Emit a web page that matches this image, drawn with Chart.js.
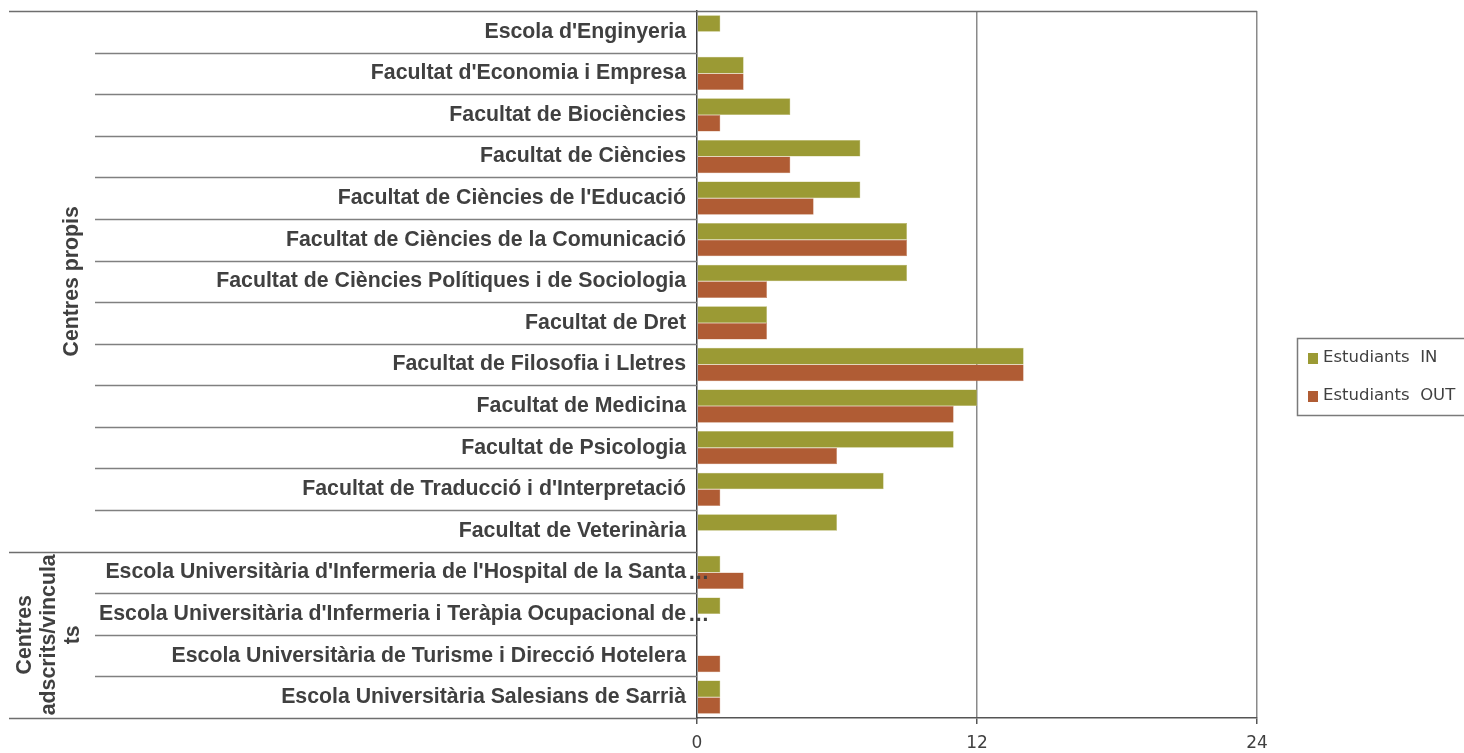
<!DOCTYPE html>
<html>
<head>
<meta charset="utf-8">
<script src="https://cdn.jsdelivr.net/npm/chart.js@4/dist/chart.umd.min.js"></script>
<style>
html,body{margin:0;padding:0;background:#fff;}
#wrap{width:1464px;height:753px;position:relative;}
</style>
</head>
<body>
<div id="wrap"><canvas id="c" width="1464" height="753"></canvas></div>
<script>
const categories = [
  "Escola d'Enginyeria",
  "Facultat d'Economia i Empresa",
  "Facultat de Biociències",
  "Facultat de Ciències",
  "Facultat de Ciències de l'Educació",
  "Facultat de Ciències de la Comunicació",
  "Facultat de Ciències Polítiques i de Sociologia",
  "Facultat de Dret",
  "Facultat de Filosofia i Lletres",
  "Facultat de Medicina",
  "Facultat de Psicologia",
  "Facultat de Traducció i d'Interpretació",
  "Facultat de Veterinària",
  "Escola Universitària d'Infermeria de l'Hospital de la Santa…",
  "Escola Universitària d'Infermeria i Teràpia Ocupacional de…",
  "Escola Universitària de Turisme i Direcció Hotelera",
  "Escola Universitària Salesians de Sarrià"
];
const groups = ["Centres propis", "Centres adscrits/vinculats"];
const groupSizes = [13, 4];
const groupLabelLines = [["Centres propis"], ["Centres", "adscrits/vincula", "ts"]];
const seriesNames = ["Estudiants  IN", "Estudiants  OUT"];
const estudiantsIn  = [1, 2, 4, 7, 7, 9, 9, 3, 14, 12, 11, 8, 6, 1, 1, 0, 1];
const estudiantsOut = [0, 2, 1, 4, 5, 9, 3, 3, 14, 11, 6, 1, 0, 2, 0, 1, 1];
const xTicks = [0, 12, 24];

const colIn = "#9b9a34";
const colOut = "#b05c34";
const textCol = "#404040";
const labelFont = "'Liberation Sans', Arial, sans-serif";
const valueFont = "'DejaVu Sans', Verdana, sans-serif";
const labelSize = 21.3;

const overlay = {
  id: 'overlay',
  afterDraw(chart) {
    const ctx = chart.ctx;
    const area = chart.chartArea;
    const ya = chart.scales.y;
    const n = categories.length;
    const step = (area.bottom - area.top) / n;
    ctx.save();
    ctx.lineWidth = 1.5;
    ctx.strokeStyle = "#6e6e6e";
    ctx.beginPath();
    ctx.moveTo(9, Math.round(area.top) + 0.5);
    ctx.lineTo(area.right, Math.round(area.top) + 0.5);
    ctx.stroke();
    let idx = 0;
    const groupBounds = [];
    groupSizes.forEach((g) => {
      const start = idx;
      for (let k = 1; k < g; k++) {
        const y = Math.round(area.top + (idx + k) * step) + 0.5;
        ctx.strokeStyle = "#808080";
        ctx.beginPath(); ctx.moveTo(95, y); ctx.lineTo(area.left, y); ctx.stroke();
      }
      idx += g;
      const yEnd = Math.round(area.top + idx * step) + 0.5;
      ctx.strokeStyle = "#6e6e6e";
      ctx.beginPath(); ctx.moveTo(9, yEnd); ctx.lineTo(area.left, yEnd); ctx.stroke();
      groupBounds.push([area.top + start * step, area.top + idx * step]);
    });
    ctx.fillStyle = textCol;
    ctx.font = "bold " + labelSize + "px " + labelFont;
    // overflowing ellipses of truncated labels
    ctx.textAlign = "left";
    ctx.textBaseline = "middle";
    categories.forEach((c, i) => {
      if (c.endsWith("…")) {
        ctx.fillText("…", area.left - 9, ya.getPixelForValue(i) + 1);
      }
    });
    ctx.textAlign = "center";
    groupLabelLines.forEach((lines, gi) => {
      const cy = (groupBounds[gi][0] + groupBounds[gi][1]) / 2;
      const lh = 24;
      const cx0 = gi === 0 ? 72 : 49;
      lines.forEach((ln, li) => {
        const cx = cx0 + (li - (lines.length - 1) / 2) * lh;
        ctx.save();
        ctx.translate(cx, cy);
        ctx.rotate(-Math.PI / 2);
        ctx.fillText(ln, 0, 0);
        ctx.restore();
      });
    });
    const lx = 1297, ly = 338, lw = 175, lh2 = 77;
    ctx.strokeStyle = "#7a7a7a";
    ctx.lineWidth = 1.5;
    ctx.strokeRect(lx + 0.5, ly + 0.5, lw, lh2);
    ctx.font = "16.5px " + valueFont;
    ctx.textAlign = "left";
    ctx.textBaseline = "middle";
    chart.data.datasets.forEach((ds, i) => {
      const cy = 358 + i * 38;
      ctx.fillStyle = ds.backgroundColor;
      ctx.fillRect(1308, cy - 5, 10, 11);
      ctx.fillStyle = textCol;
      ctx.fillText(ds.label, 1323, cy);
    });
    ctx.restore();
  }
};

new Chart(document.getElementById('c'), {
  type: 'bar',
  data: {
    labels: categories,
    datasets: [
      { label: seriesNames[0], data: estudiantsIn, backgroundColor: colIn, borderColor: "#b8b86a", borderWidth: 0.5 },
      { label: seriesNames[1], data: estudiantsOut, backgroundColor: colOut, borderColor: "#c98a6a", borderWidth: 0.5 }
    ]
  },
  options: {
    indexAxis: 'y',
    responsive: false,
    animation: false,
    devicePixelRatio: 1,
    layout: { padding: { left: 0, right: 207, top: 11, bottom: 0 } },
    datasets: { bar: { categoryPercentage: 0.8, barPercentage: 1.0 } },
    plugins: { legend: { display: false }, tooltip: { enabled: false } },
    scales: {
      x: {
        min: 0, max: 24,
        afterBuildTicks(axis) { axis.ticks = xTicks.map(v => ({ value: v })); },
        afterFit(axis) { axis.height = 35; axis.paddingLeft = 0; axis.paddingRight = 0; },
        grid: {
          color: (c) => c.tick && c.tick.value === 0 ? 'rgba(0,0,0,0)' : '#8a8a8a',
          lineWidth: 1.5,
          drawTicks: true,
          tickLength: 6,
          tickColor: '#555555'
        },
        border: { display: true, color: '#555555', width: 1.5 },
        ticks: {
          color: textCol,
          font: { family: valueFont, size: 17 },
          padding: 9,
          maxRotation: 0
        }
      },
      y: {
        afterFit(axis) { axis.width = 697; axis.paddingTop = 0; axis.paddingBottom = 0; },
        grid: { display: false, drawTicks: false },
        border: { display: true, color: '#404040', width: 1.5 },
        ticks: {
          color: textCol,
          font: { family: labelFont, size: labelSize, weight: 'bold' },
          padding: 11,
          autoSkip: false,
          callback(v, i) { const s = categories[i]; return s.endsWith("…") ? s.slice(0, -1) : s; }
        }
      }
    }
  },
  plugins: [overlay]
});
</script>
</body>
</html>
